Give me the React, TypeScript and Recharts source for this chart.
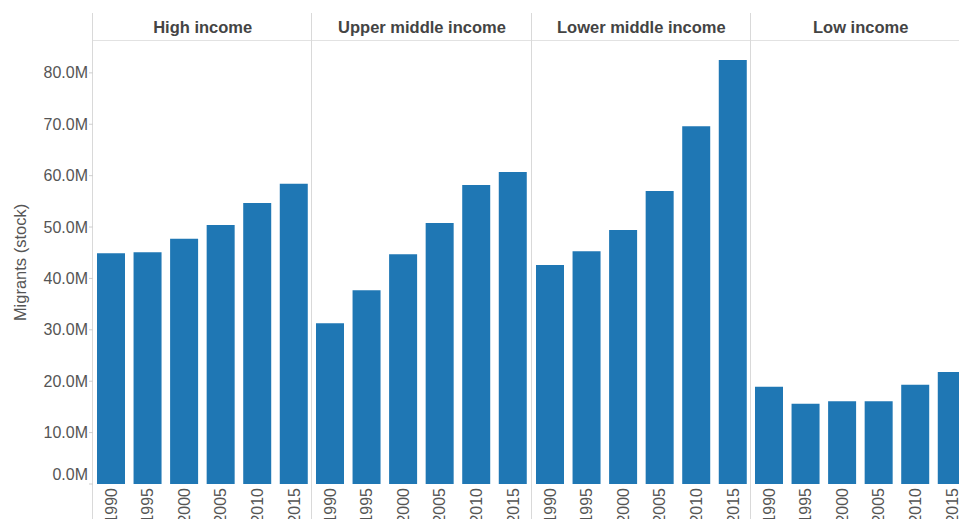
import { BarChart, Bar, XAxis, YAxis } from "recharts";

const groups = [
  "High income",
  "Upper middle income",
  "Lower middle income",
  "Low income",
];
const years = ["1990", "1995", "2000", "2005", "2010", "2015"];

// migrant stock, millions
const highIncome = [44.9, 45.1, 47.7, 50.4, 54.7, 58.4];
const upperMiddle = [31.3, 37.7, 44.7, 50.8, 58.2, 60.7];
const lowerMiddle = [42.6, 45.3, 49.4, 57.0, 69.6, 82.5];
const lowIncome = [18.9, 15.6, 16.1, 16.1, 19.3, 21.8];

const yTicks = [0, 10, 20, 30, 40, 50, 60, 70, 80];

const seriesByGroup = [highIncome, upperMiddle, lowerMiddle, lowIncome];

const FONT = '"Liberation Sans", Arial, sans-serif';
const BLUE = "#1f77b4";
const AXIS_W = 93;
const PANEL_W = 219.33;
const CHART_TOP = 41;
const CHART_H = 478;
const X_AXIS_H = 35;

const YearTick = (props: any) => {
  const { x, y, payload } = props;
  const ty = y + 2;
  return (
    <text
      x={x}
      y={ty}
      dy={5.5}
      transform={`rotate(-90, ${x}, ${ty})`}
      textAnchor="end"
      fontSize={16}
      fill="#555"
      fontFamily={FONT}
    >
      {payload.value}
    </text>
  );
};

const ValueTick = (props: any) => {
  const { x, y, payload } = props;
  // tableau nudges the zero label up so it stays inside the pane
  const shift = payload.value === 0 ? -9 : 0;
  return (
    <text
      x={x}
      y={y + shift}
      dy={5.5}
      textAnchor="end"
      fontSize={16}
      fill="#555"
      fontFamily={FONT}
    >
      {payload.value.toFixed(1) + "M"}
    </text>
  );
};

const AxisTitle = (props: any) => {
  const { viewBox } = props;
  const cx = 21;
  const cy = viewBox.y + viewBox.height / 2;
  return (
    <text
      x={cx}
      y={cy}
      dy={5.5}
      transform={`rotate(-90, ${cx}, ${cy})`}
      textAnchor="middle"
      fontSize={16.5}
      fill="#555"
      fontFamily={FONT}
    >
      Migrants (stock)
    </text>
  );
};

function Panel({ index }: { index: number }) {
  const values = seriesByGroup[index];
  const data = years.map((year, i) => ({ year, value: values[i] }));
  const first = index === 0;
  const left = first ? 0 : AXIS_W + index * PANEL_W;
  const width = first ? AXIS_W + PANEL_W : PANEL_W;

  return (
    <div style={{ position: "absolute", left, top: CHART_TOP }}>
      <BarChart
        width={width}
        height={CHART_H}
        data={data}
        margin={{ top: 0, right: 0, bottom: 0, left: 0 }}
      >
        <XAxis
          dataKey="year"
          height={X_AXIS_H}
          interval={0}
          axisLine={false}
          tickLine={false}
          tickSize={0}
          tick={<YearTick />}
        />
        <YAxis
          hide={!first}
          width={first ? AXIS_W : 0}
          domain={[0, 86.2]}
          ticks={yTicks}
          axisLine={false}
          tickLine={{ stroke: "#cfcfcf" }}
          tickSize={4}
          tickMargin={1}
          tick={<ValueTick />}
          label={first ? { content: <AxisTitle /> } : undefined}
        />
        <Bar
          dataKey="value"
          fill={BLUE}
          barSize={28}
          isAnimationActive={false}
        />
      </BarChart>
    </div>
  );
}

export default function App() {
  return (
    <div
      style={{
        position: "absolute",
        left: 0,
        top: 0,
        width: 959,
        height: 519,
        overflow: "hidden",
        background: "#fff",
        fontFamily: FONT,
      }}
    >
      {groups.map((g, i) => (
        <div
          key={g}
          style={{
            position: "absolute",
            left: AXIS_W + i * PANEL_W,
            top: 13,
            width: PANEL_W,
            height: 27,
            lineHeight: "28px",
            textAlign: "center",
            fontWeight: "bold",
            fontSize: 16.5,
            color: "#444",
          }}
        >
          {g}
        </div>
      ))}
      <div
        style={{
          position: "absolute",
          left: AXIS_W,
          top: 40,
          width: 959 - AXIS_W,
          height: 0,
          borderTop: "1px solid #e2e2e2",
        }}
      />
      {groups.map((g, i) => (
        <div
          key={"sep-" + g}
          style={{
            position: "absolute",
            left: Math.round(AXIS_W + i * PANEL_W) - 1,
            top: 13,
            width: 0,
            height: 519 - 13,
            borderLeft: "1px solid #d9d9d9",
          }}
        />
      ))}
      {groups.map((g, i) => (
        <Panel key={"p-" + g} index={i} />
      ))}
    </div>
  );
}
